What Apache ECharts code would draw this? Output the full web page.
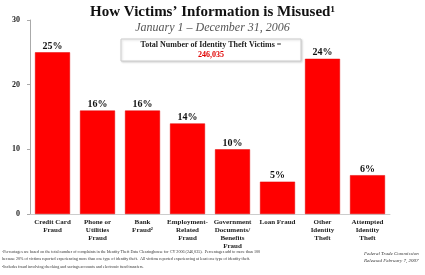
<!DOCTYPE html>
<html>
<head>
<meta charset="utf-8">
<script src="https://cdn.jsdelivr.net/npm/echarts@6/dist/echarts.min.js"></script>
<style>
  html, body { margin: 0; padding: 0; background: #fff; }
  #chart { width: 425px; height: 275px; }
</style>
</head>
<body>
<div id="chart"></div>
<script>
// misuse categories and share of victims (%)
var categories = [
	'Credit Card\nFraud',
	'Phone or\nUtilities\nFraud',
	'Bank\nFraud²',
	'Employment-\nRelated\nFraud',
	'Government\nDocuments/\nBenefits\nFraud',
	'Loan Fraud',
	'Other\nIdentity\nTheft',
	'Attempted\nIdentity\nTheft'
];
var shares = [25, 16, 16, 14, 10, 5, 24, 6];
var yTicks = [0, 10, 20, 30];

var serif = '"Liberation Serif", "DejaVu Serif", serif';

var myChart = echarts.init(document.getElementById('chart'));
var option = {
	animation: false,
	backgroundColor: '#fff',
	title: {
		text: 'How Victims\u2019 Information is Misused\u00b9',
		subtext: 'January 1 \u2013 December 31, 2006',
		left: 'center',
		top: 0,
		itemGap: 2,
		textStyle: {fontFamily: serif, fontSize: 15, fontWeight: 'bold', color: '#111'},
		subtextStyle: {fontFamily: serif, fontSize: 12, fontStyle: 'italic', color: '#555'}
	},
	grid: {left: 30, right: 35, top: 20, bottom: 61},
	xAxis: {
		type: 'category',
		data: categories,
		axisLine: {show: true, lineStyle: {color: '#ccc', width: 1}},
		axisTick: {show: false},
		axisLabel: {
			interval: 0,
			margin: 4,
			fontFamily: serif,
			fontSize: 7,
			fontWeight: 'bold',
			lineHeight: 8,
			color: '#222'
		}
	},
	yAxis: {
		type: 'value',
		min: yTicks[0],
		max: yTicks[yTicks.length - 1],
		interval: 10,
		axisLine: {show: true, lineStyle: {color: '#aaa', width: 1}},
		axisTick: {show: true, length: 3, lineStyle: {color: '#aaa'}},
		splitLine: {show: false},
		axisLabel: {
			margin: 10,
			fontFamily: serif,
			fontSize: 8,
			fontWeight: 'bold',
			color: '#222'
		}
	},
	series: [
		{
			type: 'bar',
			data: shares,
			barWidth: 35,
			itemStyle: {color: '#ff0000', borderColor: '#e00000', borderWidth: 0.5},
			label: {
				show: true,
				position: 'top',
				distance: 1,
				formatter: '{c}%',
				fontFamily: serif,
				fontSize: 10,
				fontWeight: 'bold',
				color: '#111'
			}
		}
	],
	graphic: [
		{
			type: 'rect',
			shape: {x: 121, y: 39, width: 180, height: 22},
			style: {fill: '#fff', stroke: '#ccc', lineWidth: 1, shadowBlur: 2, shadowColor: 'rgba(0,0,0,0.15)', shadowOffsetX: 1, shadowOffsetY: 1}
		},
		{
			type: 'text',
			x: 211, y: 41,
			style: {text: 'Total Number of Identity Theft Victims =', font: 'bold 8px ' + serif, fill: '#222', align: 'center'}
		},
		{
			type: 'text',
			x: 211, y: 51,
			style: {text: '246,035', font: 'bold 8px ' + serif, fill: '#e00000', align: 'center'}
		},
		{
			type: 'text',
			x: 2, y: 248,
			style: {
				text: '\u00b9Percentages are based on the total number of complaints in the Identity Theft Data Clearinghouse for CY 2006 (246,035).  Percentages add to more than 100\n' +
					'because 20% of victims reported experiencing more than one type of identity theft.  All victims reported experiencing at least one type of identity theft.\n' +
					'\u00b2Includes fraud involving checking and savings accounts and electronic fund transfers.',
				font: '4.1px ' + serif,
				lineHeight: 7.5,
				fill: '#333'
			}
		},
		{
			type: 'text',
			x: 364, y: 250,
			style: {
				text: 'Federal Trade Commission\nReleased February 7, 2007',
				font: 'italic 5px ' + serif,
				lineHeight: 7,
				fill: '#333'
			}
		}
	]
};
myChart.setOption(option);
</script>
</body>
</html>
